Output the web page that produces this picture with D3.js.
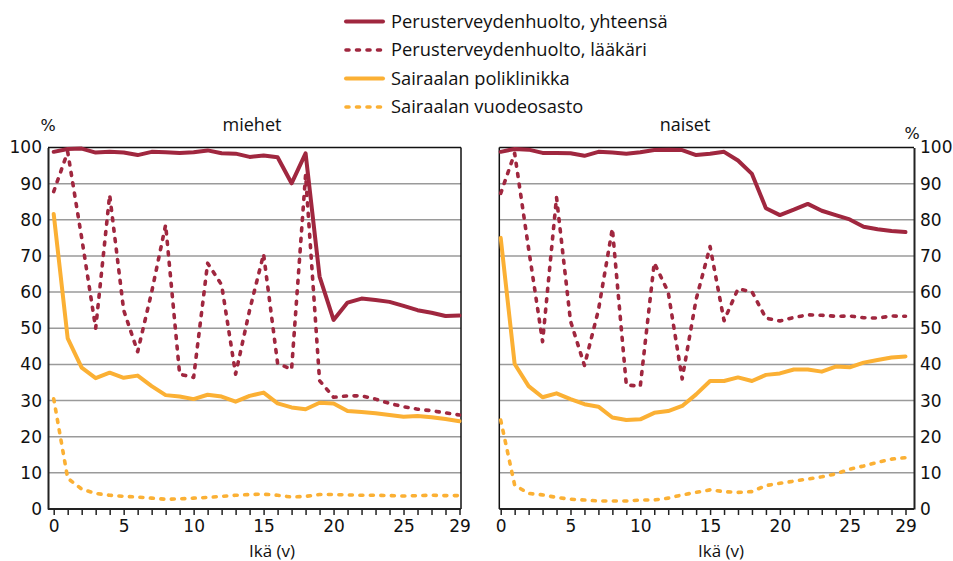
<!DOCTYPE html>
<html>
<head>
<meta charset="utf-8">
<script src="https://cdn.jsdelivr.net/npm/d3@7"></script>
<style>
  body { margin: 0; background: #fff; }
  svg text { font-family: "DejaVu Sans", sans-serif; fill: #111; }
  .lbl { font-family: "Open Sans", sans-serif; }
</style>
</head>
<body>
<svg id="chart"></svg>
<script>
// ages 0..29
const ages = d3.range(0, 30);

// miehet (men)
const menTotal   = [98.8, 99.6, 99.7, 98.6, 98.8, 98.6, 97.9, 98.8, 98.7, 98.5, 98.7, 99.2, 98.4, 98.3, 97.4, 97.8, 97.3, 90.1, 98.4, 64.3, 52.3, 57.1, 58.2, 57.8, 57.3, 56.2, 55.0, 54.3, 53.4, 53.5];
const menDoctor  = [87.8, 98.8, 75.0, 50.0, 86.9, 55.0, 43.5, 60.0, 78.6, 37.3, 36.4, 68.0, 62.0, 37.3, 55.0, 70.5, 40.3, 38.6, 92.4, 35.5, 30.9, 31.3, 31.3, 30.4, 29.2, 28.3, 27.6, 27.2, 26.6, 26.0];
const menOutpat  = [81.6, 47.2, 39.1, 36.2, 37.7, 36.3, 36.9, 34.0, 31.5, 31.1, 30.4, 31.6, 31.1, 29.7, 31.3, 32.2, 29.2, 28.1, 27.6, 29.4, 29.2, 27.1, 26.8, 26.5, 26.0, 25.5, 25.7, 25.4, 24.9, 24.3];
const menWard    = [30.5, 8.5, 5.5, 4.3, 3.8, 3.5, 3.3, 3.0, 2.7, 2.8, 3.0, 3.2, 3.5, 3.8, 4.0, 4.1, 3.8, 3.3, 3.5, 4.0, 4.0, 3.9, 3.8, 3.8, 3.7, 3.6, 3.7, 3.8, 3.7, 3.7];

// naiset (women)
const womenTotal  = [98.8, 99.6, 99.4, 98.5, 98.5, 98.4, 97.7, 98.8, 98.6, 98.3, 98.7, 99.3, 99.4, 99.3, 97.9, 98.3, 98.8, 96.4, 92.7, 83.2, 81.3, 82.8, 84.4, 82.5, 81.3, 80.1, 78.1, 77.4, 76.9, 76.6];
const womenDoctor = [87.3, 98.4, 72.0, 46.3, 86.2, 52.0, 39.7, 55.0, 77.6, 34.3, 34.0, 68.1, 60.0, 36.0, 58.0, 72.6, 52.1, 60.9, 60.1, 52.8, 52.0, 53.0, 53.7, 53.6, 53.3, 53.4, 52.9, 52.8, 53.4, 53.3];
const womenOutpat = [75.0, 40.1, 34.0, 30.9, 32.0, 30.4, 29.0, 28.3, 25.3, 24.6, 24.8, 26.6, 27.1, 28.5, 31.7, 35.4, 35.4, 36.4, 35.4, 37.1, 37.5, 38.6, 38.6, 38.0, 39.4, 39.2, 40.5, 41.2, 41.9, 42.2];
const womenWard   = [24.6, 6.6, 4.3, 3.9, 3.2, 2.7, 2.5, 2.2, 2.2, 2.2, 2.5, 2.5, 3.0, 3.9, 4.6, 5.3, 4.8, 4.6, 4.8, 6.5, 7.1, 7.7, 8.3, 8.9, 9.7, 11.0, 11.9, 12.9, 13.8, 14.2];

const seriesNames = ["Perusterveydenhuolto, yhteensä", "Perusterveydenhuolto, lääkäri", "Sairaalan poliklinikka", "Sairaalan vuodeosasto"];
const panelTitles = ["miehet", "naiset"];
const xTickLabels = [0, 5, 10, 15, 20, 25, 29];
const yTicks = d3.range(0, 101, 10);

const width = 953, height = 561;
const red = "#a0273f", orange = "#fbb034";
const styles = [
  { color: red, dash: null },
  { color: red, dash: "3,7.5" },
  { color: orange, dash: null },
  { color: orange, dash: "3,7.5" }
];

const svg = d3.select("#chart").attr("width", width).attr("height", height);

const y = d3.scaleLinear().domain([0, 100]).range([509, 147.5]);

const panels = [
  { title: panelTitles[0], data: [menTotal, menDoctor, menOutpat, menWard], left: 48, right: 461, x0: 53.7, x1: 459.5, side: "left", titleX: 252, axisTitleX: 272 },
  { title: panelTitles[1], data: [womenTotal, womenDoctor, womenOutpat, womenWard], left: 499.3, right: 914, x0: 500.7, x1: 905.5, side: "right", titleX: 685, axisTitleX: 721 }
];

panels.forEach(p => {
  let x = d3.scaleLinear().domain([0, 29]).range([p.x0, p.x1]);
  let g = svg.append("g");

  // gridlines
  g.selectAll(".grid")
    .data(yTicks.filter(t => t > 0 && t < 100))
    .enter().append("line")
    .attr("x1", p.left).attr("x2", p.right)
    .attr("y1", d => y(d)).attr("y2", d => y(d))
    .attr("stroke", "#9a9a9a").attr("stroke-width", 1.5);

  // frame: top and the side without labels
  g.append("line").attr("x1", p.left).attr("x2", p.right).attr("y1", y(100)).attr("y2", y(100))
    .attr("stroke", "#111").attr("stroke-width", 1.3);
  let frameX = p.side === "left" ? p.right : p.left;
  g.append("line").attr("x1", frameX).attr("x2", frameX).attr("y1", y(100)).attr("y2", y(0))
    .attr("stroke", "#111").attr("stroke-width", 1.5);

  // x axis
  let xAxis = d3.axisBottom(x)
    .tickValues(ages)
    .tickSize(6)
    .tickSizeOuter(0)
    .tickFormat(d => xTickLabels.includes(d) ? d : "");
  let gx = g.append("g").attr("transform", `translate(0,${y(0)})`).call(xAxis);
  gx.select(".domain").attr("d", `M${p.left},0H${p.right}`).attr("stroke", "#222").attr("stroke-width", 2);
  gx.selectAll(".tick line").attr("stroke", "#222").attr("stroke-width", 1.5);
  gx.selectAll(".tick text").attr("font-size", 17).attr("dy", "0.85em").attr("font-family", "DejaVu Sans");

  // y axis
  let yAxis = (p.side === "left" ? d3.axisLeft(y) : d3.axisRight(y))
    .tickValues(yTicks).tickSize(0).tickPadding(6);
  let axX = p.side === "left" ? p.left : p.right;
  let gy = g.append("g").attr("transform", `translate(${axX},0)`).call(yAxis);
  gy.select(".domain").attr("stroke", "#222").attr("stroke-width", 2);
  gy.selectAll(".tick text").attr("font-size", 17).attr("font-family", "DejaVu Sans");

  // lines
  let line = d3.line().x((d, i) => x(ages[i])).y(d => y(d));
  p.data.forEach((vals, k) => {
    g.append("path")
      .datum(vals)
      .attr("d", line)
      .attr("fill", "none")
      .attr("stroke", styles[k].color)
      .attr("stroke-width", styles[k].dash ? 3.6 : 4)
      .attr("stroke-linejoin", "round")
      .attr("stroke-linecap", "round")
      .attr("stroke-dasharray", styles[k].dash);
  });

  // titles
  svg.append("text").attr("class", "lbl").attr("x", p.titleX).attr("y", 131)
    .attr("text-anchor", "middle").attr("font-size", 18).text(p.title);
  svg.append("text").attr("class", "lbl").attr("x", p.axisTitleX).attr("y", 557)
    .attr("text-anchor", "middle").attr("font-size", 17).text("Ikä (v)");
});

// percent signs
svg.append("text").attr("x", 48).attr("y", 131).attr("text-anchor", "middle").attr("font-size", 16).text("%");
svg.append("text").attr("x", 912).attr("y", 139).attr("text-anchor", "middle").attr("font-size", 16).text("%");

// legend
let legend = svg.append("g");
seriesNames.forEach((name, k) => {
  let ly = 21.5 + k * 28.5;
  legend.append("line")
    .attr("x1", 346).attr("x2", 383).attr("y1", ly).attr("y2", ly)
    .attr("stroke", styles[k].color)
    .attr("stroke-width", styles[k].dash ? 3.6 : 4)
    .attr("stroke-linecap", "round")
    .attr("stroke-dasharray", styles[k].dash);
  legend.append("text").attr("class", "lbl")
    .attr("x", 391).attr("y", ly + 6)
    .attr("font-size", 18.3).text(name);
});
</script>
</body>
</html>
